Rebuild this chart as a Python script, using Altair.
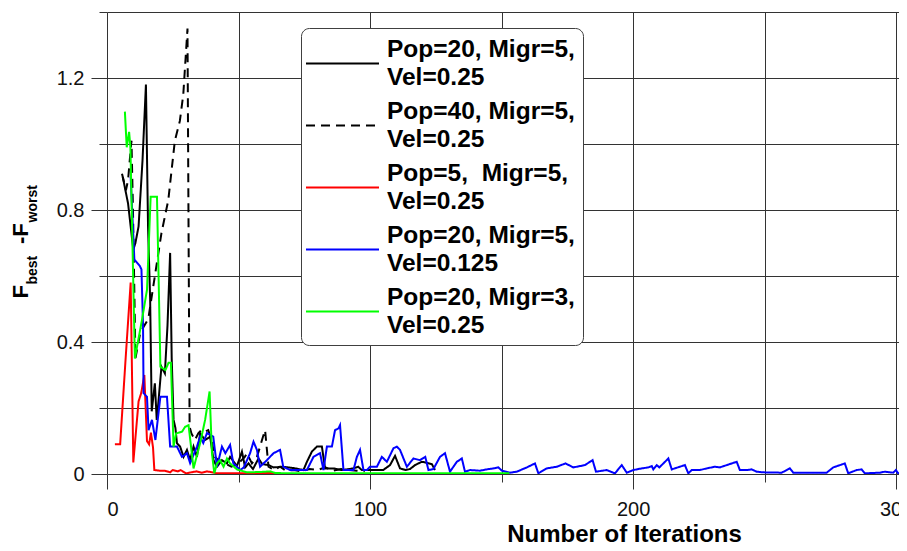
import altair as alt
import pandas as pd

# ---- data ----
S1 = "Pop=20, Migr=5,|Vel=0.25"
S2 = "Pop=40, Migr=5,|Vel=0.25"
S3 = "Pop=5,\u00a0 Migr=5,|Vel=0.25"
S4 = "Pop=20, Migr=5,|Vel=0.125"
S5 = "Pop=20, Migr=3,|Vel=0.25"
series_names = [S1, S2, S3, S4, S5]
series_colors = ["#000000", "#000000", "#ff0000", "#0000ff", "#00ff00"]
series_dash = [[1, 0], [9, 6], [1, 0], [1, 0], [1, 0]]

x_black = [6, 8, 10, 10.8, 12, 13.5, 14.8, 15.6, 16.4, 17, 18.2, 18.9, 19.5, 20.7, 22, 23, 24,
           24.6, 25.3, 26, 26.6, 27.8, 29.1, 30.4, 31.6, 32.9, 34.2, 35.4, 37.3, 39.2, 40.5, 41.8,
           43.7, 45.6, 46.8, 49.4, 51.3, 52.5, 53.8, 55.5, 57.6, 59, 61.4, 63.3, 67, 71, 74.7, 76,
           77.9, 79.8, 81.7, 82.9, 86.1, 89, 91.2, 93.7, 95.5, 96.9, 99.4, 102.6, 105, 107.6, 109.5,
           111.4, 113.5, 115.2, 117.1, 119.7, 121.6, 123.5, 124.7]
y_black = [0.90, 0.82, 0.68, 0.70, 0.75, 0.95, 1.18, 0.75, 0.53, 0.19, 0.275, 0.164, 0.214, 0.325,
           0.305, 0.45, 0.67, 0.35, 0.164, 0.14, 0.093, 0.083, 0.052, 0.073, 0.042, 0.083, 0.052,
           0.123, 0.103, 0.113, 0.042, 0.022, 0.042, 0.032, 0.052, 0.024, 0.068, 0.02, 0.032, 0.015,
           0.047, 0.03, 0.027, 0.02, 0.022, 0.018, 0.012, 0.037, 0.068, 0.083, 0.083, 0.017, 0.017,
           0.012, 0.014, 0.017, 0.022, 0.012, 0.012, 0.012, 0.012, 0.027, 0.055, 0.017, 0.012, 0.015,
           0.027, 0.037, 0.034, 0.03, 0.012]

x_dash = [5.7, 7.2, 8.0, 9.3, 9.8, 10.3, 10.8, 12.7, 15.7, 18.2, 20.7, 23.3, 25.8, 27.7, 29.0, 30.6,
          31.4, 32.1, 33.4, 34.7, 35.9, 37.2, 38.5, 39.7, 41.0, 42.3, 44.8, 47.3, 49.9, 52.4, 53.2,
          55.1, 57.0, 58.2, 59.3, 60.1, 60.8, 61.4, 63.5, 65.8, 68, 71, 74, 77, 80, 83, 86, 89, 92,
          95, 98]
y_dash = [0.91, 0.86, 0.89, 1.01, 0.83, 0.6, 0.35, 0.43, 0.47, 0.6, 0.73, 0.83, 1.01, 1.07, 1.15,
          1.35, 0.143, 0.123, 0.103, 0.123, 0.133, 0.128, 0.133, 0.103, 0.052, 0.042, 0.032, 0.022,
          0.032, 0.052, 0.063, 0.032, 0.052, 0.083, 0.113, 0.133, 0.073, 0.022, 0.012, 0.022, 0.01,
          0.012, 0.008, 0.015, 0.012, 0.02, 0.01, 0.015, 0.012, 0.01, 0.008]

x_red = [3, 5, 7, 9, 10, 12, 13, 14.2, 15.2, 16, 16.7, 17.5, 18, 20, 22, 24, 25, 27, 28, 30, 32, 34,
         36, 38, 40, 42, 45, 50, 55, 60, 64]
y_red = [0.09, 0.09, 0.34, 0.58, 0.035, 0.22, 0.245, 0.30, 0.10, 0.09, 0.125, 0.08, 0.012, 0.01,
         0.01, 0.005, 0.012, 0.008, 0.012, 0.002, 0.005, 0.008, 0.004, 0.008, 0.005, 0.002, 0.002,
         0.002, 0.002, 0.003, 0.003]

x_blue = [9, 10.4, 12.5, 13.1, 13.7, 13.9, 15.2, 15.8, 17.1, 18.4, 20.3, 22.8, 24, 26.6, 28.5, 30.4,
          31.6, 34.2, 35.4, 36.6, 38, 40.4, 41.8, 43.7, 45, 46.8, 48, 50.7, 52, 54.4, 55.7, 57, 58.2,
          60.8, 63.3, 65.8, 67, 69.6, 73, 76, 78.5, 81, 82.3, 83.6, 85.5, 86.7, 88, 88.6, 89.9, 93.7,
          95, 96.2, 97.5, 98.8, 100, 102.6, 104.5, 106.4, 108.9, 110.2, 111.4, 114, 116.5, 119, 121,
          122.2, 124.1, 126.6, 128.5, 130.4, 133, 134.9, 136.1, 138, 141.8, 144.4, 146.9, 148.8,
          150.1, 153.2, 155.8, 159.6, 162.7, 164, 167.2, 171, 174.3, 177.3, 181.7, 184.6, 185.9, 190,
          193.1, 195.7, 197.6, 200.1, 202.6, 205.8, 207.1, 207.7, 209, 210, 213.4, 214.7, 219.7, 221,
          222.3, 225.4, 228, 231.1, 233, 235.6, 239.4, 240.6, 243.2, 245.1, 247, 249.5, 256.5, 259.6,
          260.9, 268.5, 273.6, 276.1, 280.5, 281.8, 285, 286.9, 288.1, 293.8, 295.7, 298.9, 299.9,
          300.8, 304]
y_blue = [0.90, 0.65, 0.63, 0.62, 0.45, 0.245, 0.234, 0.133, 0.164, 0.103, 0.234, 0.234, 0.083,
          0.083, 0.052, 0.063, 0.033, 0.083, 0.113, 0.094, 0.124, 0.113, 0.022, 0.083, 0.063, 0.088,
          0.033, 0.012, 0.02, 0.063, 0.098, 0.073, 0.022, 0.042, 0.063, 0.073, 0.022, 0.012, 0.012,
          0.012, 0.052, 0.063, 0.012, 0.083, 0.083, 0.133, 0.138, 0.148, 0.012, 0.012, 0.052, 0.073,
          0.012, 0.012, 0.022, 0.022, 0.052, 0.037, 0.078, 0.083, 0.073, 0.022, 0.047, 0.042, 0.052,
          0.012, 0.015, 0.052, 0.063, 0.007, 0.037, 0.047, 0.007, 0.012, 0.01, 0.014, 0.017, 0.02,
          0.01, 0.004, 0.007, 0.02, 0.032, 0.002, 0.017, 0.022, 0.032, 0.02, 0.027, 0.042, 0.007,
          0.012, 0.002, 0.027, 0.004, 0.012, 0.016, 0.02, 0.024, 0.014, 0.027, 0.02, 0.047, 0.014,
          0.027, 0.002, 0.012, 0.012, 0.017, 0.022, 0.02, 0.027, 0.037, 0.012, 0.012, 0.014, 0.007,
          0.005, 0.004, 0.017, 0.004, 0.004, 0.004, 0.02, 0.032, 0.002, 0.012, 0.014, 0.002, 0.004,
          0.007, 0.004, 0.012, 0.002, 0.004]

x_green = [6.8, 7.5, 8.4, 8.9, 10.6, 13.3, 15.2, 16.6, 19, 20.3, 22.2, 23.4, 24.3, 25.3, 26.3, 28.5,
           29.7, 31, 32.9, 35.4, 37.3, 39, 39.9, 40.8, 41.8, 43, 44.3, 45.6, 46.8, 49.4, 53.2, 58,
           62, 64, 70, 80, 100, 120, 140, 153]
y_green = [1.098, 0.99, 1.037, 0.99, 0.35, 0.467, 0.558, 0.84, 0.84, 0.325, 0.315, 0.337, 0.337,
           0.083, 0.123, 0.128, 0.143, 0.148, 0.017, 0.093, 0.164, 0.25, 0.063, 0.002, 0.032, 0.042,
           0.022, 0.047, 0.032, 0.014, 0.005, 0.006, 0.008, 0.003, 0.002, 0.002, 0.002, 0.002, 0.002,
           0.002]

x_ticks = [0, 50, 100, 150, 200, 250, 300]
y_ticks = [0, 0.2, 0.4, 0.6, 0.8, 1.0, 1.2, 1.4]

rows = []
for name, xs, ys in [(S1, x_black, y_black), (S2, x_dash, y_dash), (S3, x_red, y_red),
                     (S4, x_blue, y_blue), (S5, x_green, y_green)]:
    for i, (a, b) in enumerate(zip(xs, ys)):
        rows.append({"series": name, "it": a, "val": b, "order": i})
df = pd.DataFrame(rows)

FONT = "Liberation Sans"

legend = alt.Legend(
    title=None, orient="none", legendX=194, legendY=16, direction="vertical",
    symbolType="M-2.92,1.12L2.92,1.12", symbolSize=625, symbolStrokeWidth=2, symbolOffset=20,
    labelFont=FONT, labelFontSize=24.5, labelFontWeight="bold", labelColor="#000000",
    labelLimit=400, labelOffset=31, labelExpr="split(datum.label, '|')",
    padding=8, rowPadding=9, strokeColor="#404040", fillColor="#ffffff", cornerRadius=8,
)

lines = alt.Chart(df).mark_line(strokeWidth=2, clip=True).encode(
    x=alt.X("it:Q", scale=alt.Scale(domain=[0, 301.1], nice=False, zero=False),
            axis=alt.Axis(values=x_ticks, grid=True, domain=False,
                          labelExpr="datum.value % 100 == 0 ? datum.label : ''",
                          tickSize={"condition": {"test": "datum.value % 100 == 0", "value": 15}, "value": 8},
                          labelPadding=10, labelFontSize=20, labelFont=FONT, labelColor="#111111",
                          title="Number of Iterations", titleFont=FONT, titleFontSize=24,
                          titleFontWeight="bold", titleColor="#000000",
                          titleX=517, titleY=67, titleBaseline="alphabetic", titleAlign="center")),
    y=alt.Y("val:Q", scale=alt.Scale(domain=[0, 1.4], nice=False),
            axis=alt.Axis(values=y_ticks, grid=True, domain=False, format="~g",
                          labelExpr="round(datum.value * 10) % 4 == 0 ? datum.label : ''",
                          tickSize={"condition": {"test": "round(datum.value * 10) % 4 == 0", "value": 16}, "value": 8},
                          labelPadding=7, labelFontSize=20, labelFont=FONT, labelColor="#111111",
                          title=None)),
    color=alt.Color("series:N", scale=alt.Scale(domain=series_names, range=series_colors), legend=legend),
    strokeDash=alt.StrokeDash("series:N", scale=alt.Scale(domain=series_names, range=series_dash), legend=legend),
    order="order:Q",
)

def piece(txt, px, py, size):
    return alt.Chart(alt.Data(values=[{"t": txt}])).mark_text(
        angle=270, align="left", baseline="alphabetic", font=FONT, fontSize=size,
        fontWeight="bold", color="#000000"
    ).encode(text="t:N", x=alt.value(px), y=alt.value(py))

ytitle = [piece("F", -78.7, 286.6, 22), piece("best", -70.3, 272.5, 14),
          piece("-F", -78.7, 232, 22), piece("worst", -70.3, 210.5, 14)]

chart = alt.layer(lines, *ytitle).properties(
    width=792, height=462,
    padding={"left": 99, "top": 4, "right": 0, "bottom": 69},
    autosize=alt.AutoSizeParams(type="none"),
).configure(
    style={"guide-label": {"lineHeight": 28}}
).configure_view(stroke=None).configure_axis(
    gridColor="#333333", gridWidth=1, gridOpacity=1, tickColor="#333333", tickWidth=1
)

chart.save("out.html", embed_options={"renderer": "svg", "actions": False})
